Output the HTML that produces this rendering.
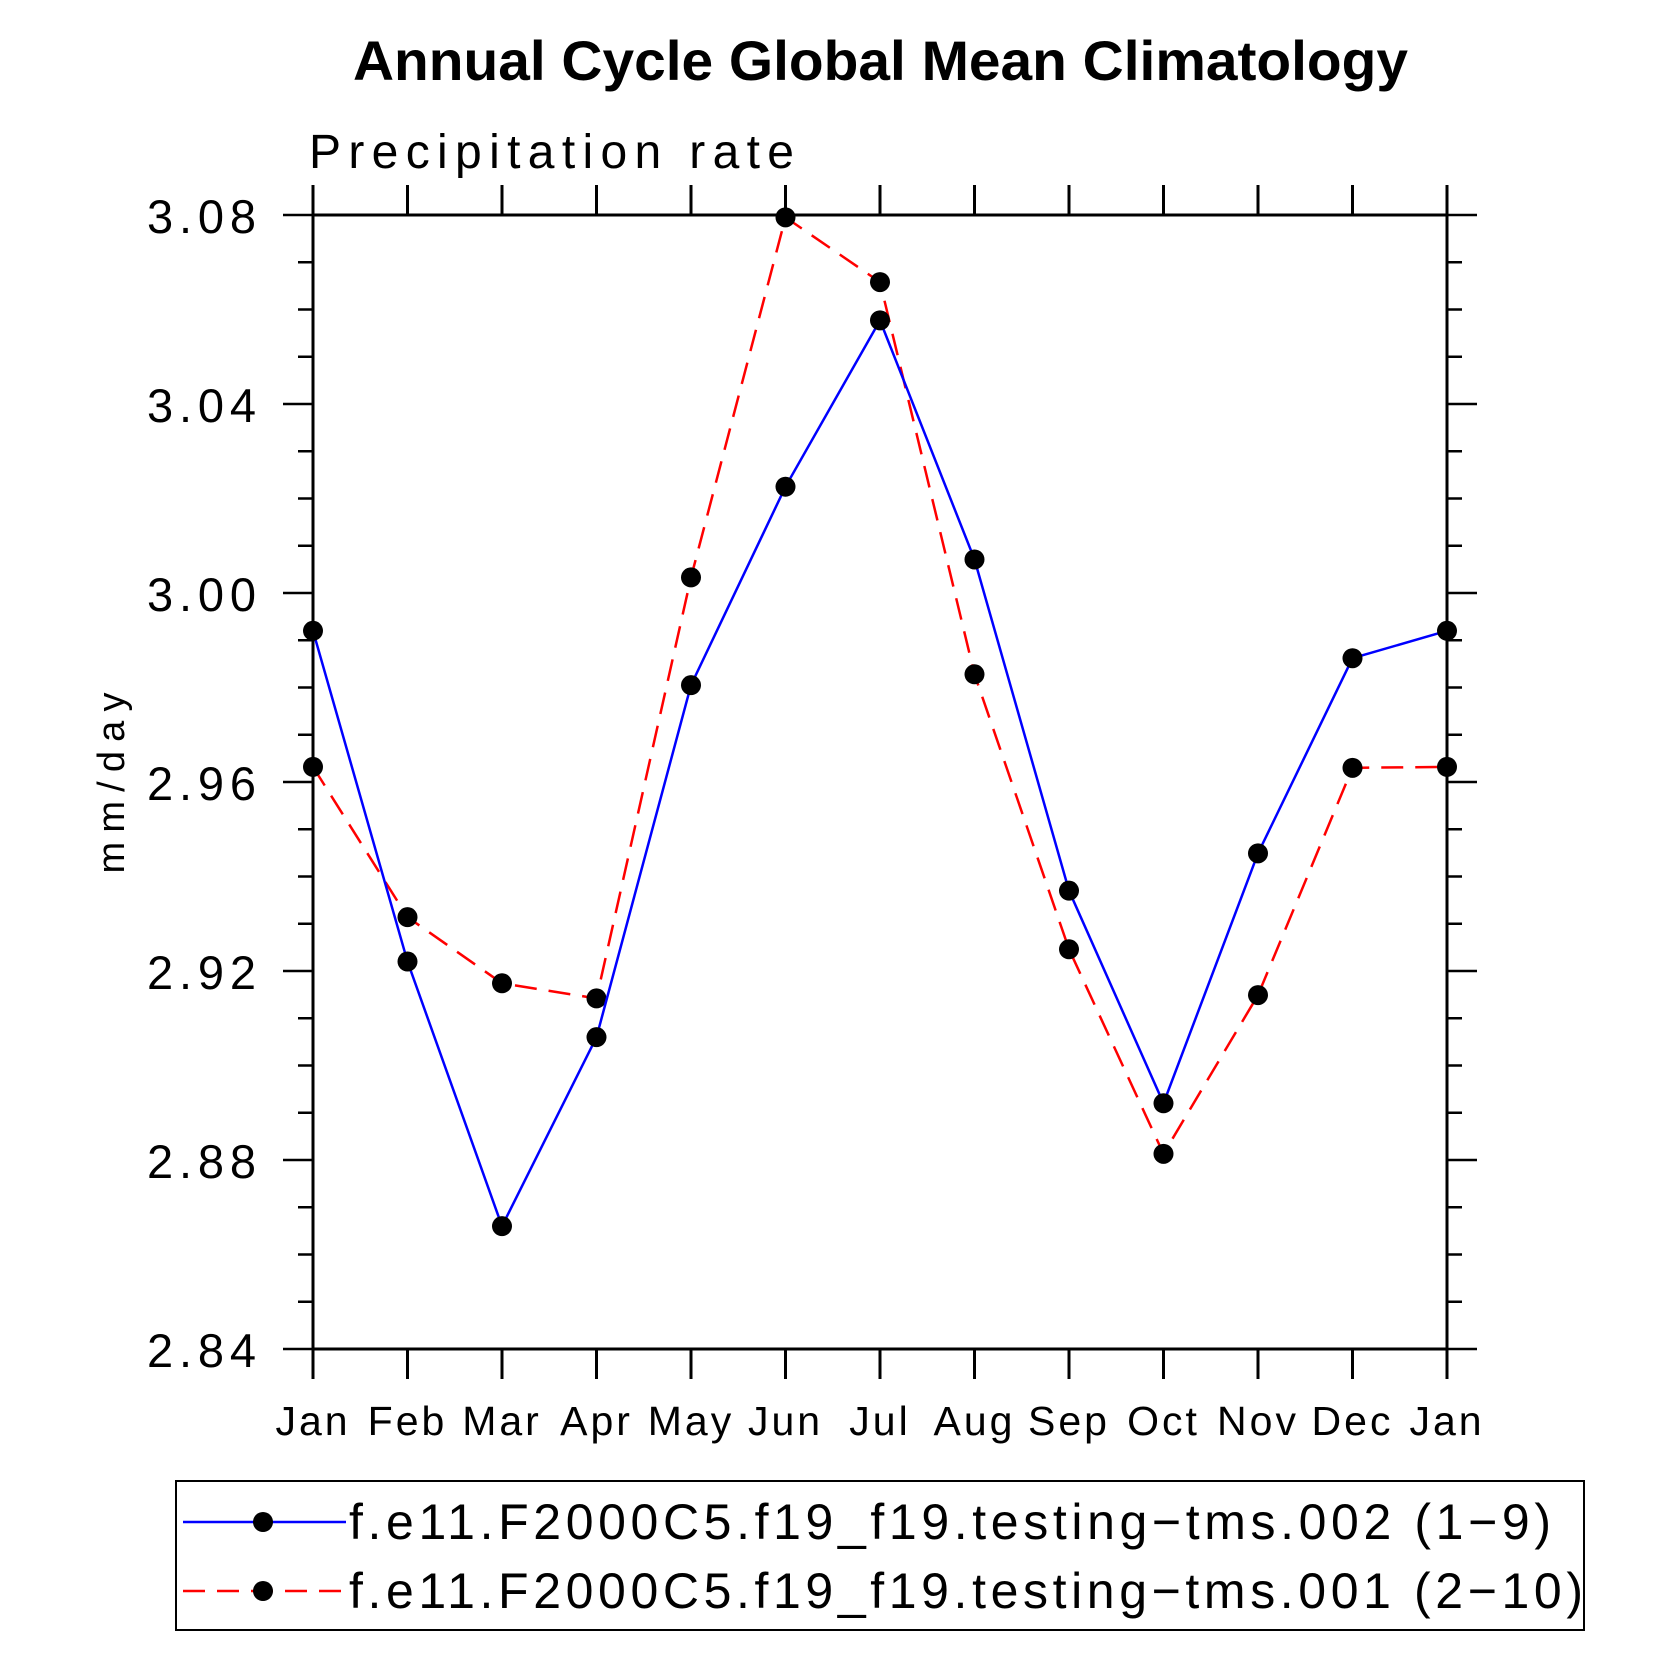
<!DOCTYPE html>
<html><head><meta charset="utf-8"><style>
body{margin:0;background:#fff}
text{font-family:"Liberation Sans",sans-serif}
</style></head><body>
<svg id="c" width="1669" height="1669" viewBox="0 0 1669 1669">
<text x="353" y="80" font-size="56" font-weight="bold" textLength="1055" lengthAdjust="spacingAndGlyphs">Annual Cycle Global Mean Climatology</text>
<text x="309" y="168" font-size="48" font-weight="300" textLength="485" lengthAdjust="spacing">Precipitation rate</text>
<text transform="translate(124,783) rotate(-90)" text-anchor="middle" font-size="38" textLength="181" lengthAdjust="spacing">mm/day</text>
<g id="plot"></g>
<rect x="176" y="1481" width="1408" height="149" fill="none" stroke="#000" stroke-width="2"/>
<g>
<line x1="183" y1="1522" x2="346" y2="1522" stroke="#00f" stroke-width="2.5"/>
<circle cx="263" cy="1522" r="10"/>
<text x="349" y="1539" font-size="50" textLength="1202" lengthAdjust="spacing">f.e11.F2000C5.f19_f19.testing−tms.002 (1−9)</text>
</g>
<g>
<line x1="183" y1="1591" x2="346" y2="1591" stroke="#f00" stroke-width="2.5" stroke-dasharray="22,12"/>
<circle cx="263" cy="1591" r="10"/>
<text x="349" y="1608" font-size="50" textLength="1234" lengthAdjust="spacing">f.e11.F2000C5.f19_f19.testing−tms.001 (2−10)</text>
</g>
</svg>
<script>
const months=["Jan","Feb","Mar","Apr","May","Jun","Jul","Aug","Sep","Oct","Nov","Dec","Jan"];
const yTicks=[2.84,2.88,2.92,2.96,3.00,3.04,3.08];
const yTickLabels=["2.84","2.88","2.92","2.96","3.00","3.04","3.08"];
const series002=[2.992,2.922,2.866,2.906,2.9805,3.0225,3.0577,3.0071,2.937,2.892,2.9449,2.9862,2.992];
const series001=[2.9632,2.9314,2.9174,2.9142,3.0033,3.0795,3.0658,2.9828,2.9246,2.8813,2.9149,2.963,2.9632];
const L=313,R=1447,T=215,B=1349,ymin=2.84,ymax=3.08;
const xs=i=>L+(R-L)*i/(months.length-1);
const ys=v=>B-(v-ymin)/(ymax-ymin)*(B-T);
const NS="http://www.w3.org/2000/svg";
const g=document.getElementById('plot');
function mk(t,a,p){const e=document.createElementNS(NS,t);for(const k in a)e.setAttribute(k,a[k]);(p||g).appendChild(e);return e;}
const frame=mk('rect',{x:L,y:T,width:R-L,height:B-T,fill:'none',stroke:'#000','stroke-width':3});


months.forEach((m,i)=>{const x=xs(i);
mk('line',{x1:x,y1:B,x2:x,y2:B+30,stroke:'#000','stroke-width':3});
mk('line',{x1:x,y1:T,x2:x,y2:T-30,stroke:'#000','stroke-width':3});
const t=mk('text',{x:x,y:B+86,'text-anchor':'middle','font-size':41,'letter-spacing':3});t.textContent=m;


});
for(let k=0;k<=24;k++){const v=ymin+k*0.01;const y=ys(v);const major=k%4===0;const len=major?30:15;
mk('line',{x1:L-len,y1:y,x2:L,y2:y,stroke:'#000','stroke-width':2.5});
mk('line',{x1:R,y1:y,x2:R+len,y2:y,stroke:'#000','stroke-width':2.5});}
yTicks.forEach((v,i)=>{const t=mk('text',{x:256,y:ys(v)+18,'text-anchor':'end','font-size':47,textLength:109,lengthAdjust:'spacing'});t.textContent=yTickLabels[i];

});
function draw(d,color,dash,name){
const p=mk('polyline',{points:d.map((v,i)=>xs(i)+','+ys(v)).join(' '),fill:'none',stroke:color,'stroke-width':2.5,'stroke-dasharray':dash});


d.forEach((v,i)=>{const c=mk('circle',{cx:xs(i),cy:ys(v),r:10});

});}
draw(series001,'#f00','22,12','series-001');
draw(series002,'#00f','none','series-002');
</script>
</body></html>
